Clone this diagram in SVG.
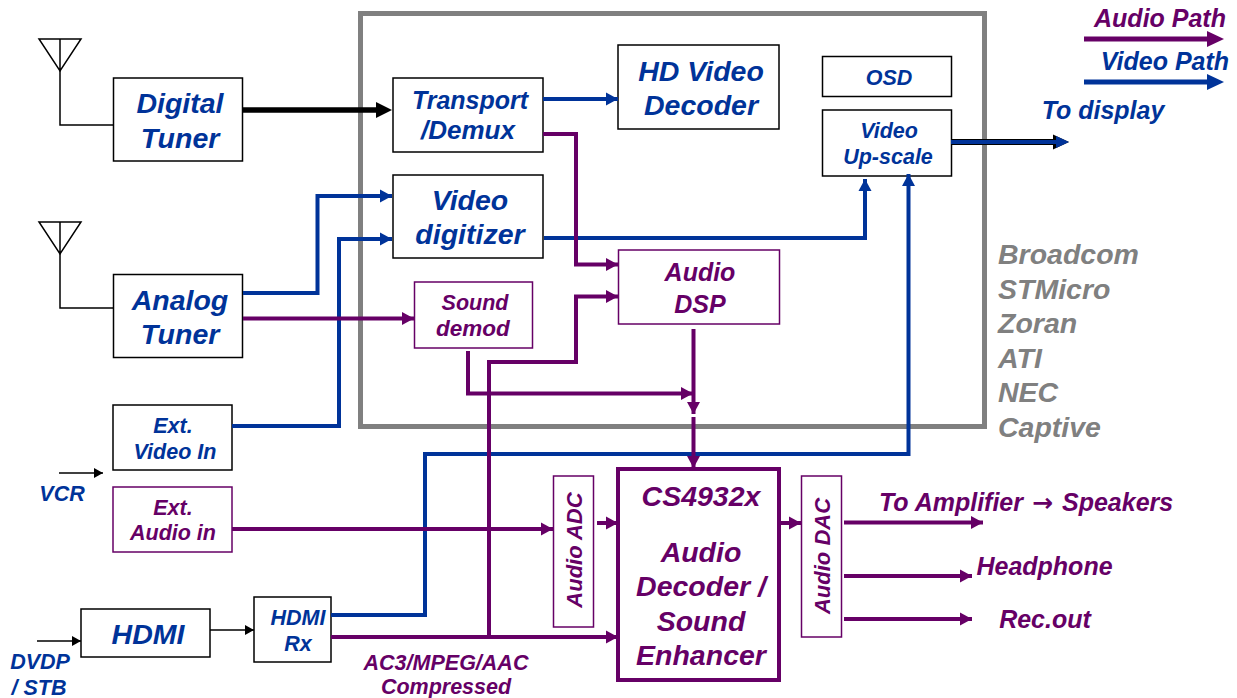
<svg xmlns="http://www.w3.org/2000/svg" width="1237" height="698" viewBox="0 0 1237 698">
<style>
text{font-family:"Liberation Sans",Arial,sans-serif;font-weight:bold;font-style:italic;text-anchor:middle}
.b{fill:#003399}.p{fill:#660066}.g{fill:#808080;text-anchor:start}
.nk{fill:#fff;stroke:#000;stroke-width:1.5}.np{fill:#fff;stroke:#660066;stroke-width:1.5}
.cb,.cp,.th{fill:none;stroke-linejoin:miter}
.cb{stroke:#003399;stroke-width:4}.cp{stroke:#660066;stroke-width:4}.th{stroke:#000;stroke-width:1.5}
.l{font-size:28.500px}.m{font-size:25px}.s{font-size:21.500px}
</style>
<defs>
<marker id="ab" markerUnits="userSpaceOnUse" markerWidth="14" markerHeight="14" refX="12" refY="7" orient="auto"><path d="M0 0.500L12 7L0 13.500z" fill="#003399"/></marker>
<marker id="ap" markerUnits="userSpaceOnUse" markerWidth="14" markerHeight="14" refX="12" refY="7" orient="auto"><path d="M0 0.500L12 7L0 13.500z" fill="#660066"/></marker>
<marker id="ak" markerUnits="userSpaceOnUse" markerWidth="10" markerHeight="14" refX="9" refY="7" orient="auto"><path d="M0 2L9 7L0 12z" fill="#000"/></marker>
</defs>
<g id="chip-frame"><rect x="360.500" y="13.500" width="624" height="413" fill="#fff" stroke="#808080" stroke-width="5"/></g>
<g id="antenna-1"><path class="th" d="M39 39H81L60 71z M60 39V71"/></g>
<g id="antenna-2"><path class="th" d="M39 222H81L60 254z M60 222V254"/></g>
<g id="digital-tuner"><rect class="nk" x="113.500" y="78" width="129" height="83"/><text class="b l" x="180" y="113">Digital</text><text class="b l" x="180" y="148">Tuner</text></g>
<g id="analog-tuner"><rect class="nk" x="113.500" y="274.500" width="129" height="83"/><text class="b l" x="180" y="310">Analog</text><text class="b l" x="180" y="344">Tuner</text></g>
<g id="ext-video"><rect class="nk" x="113" y="405" width="119" height="65"/><text class="b s" x="173" y="433">Ext.</text><text class="b s" x="175" y="459">Video In</text></g>
<g id="ext-audio"><rect class="np" x="113" y="487" width="119" height="65"/><text class="p s" x="173" y="515">Ext.</text><text class="p s" x="173" y="540">Audio in</text></g>
<g id="hdmi"><rect class="nk" x="81" y="609" width="129" height="48"/><text class="b l" x="148" y="644">HDMI</text></g>
<g id="hdmi-rx"><rect class="nk" x="254" y="597" width="77" height="65"/><text class="b s" x="298" y="625">HDMI</text><text class="b s" x="298" y="651">Rx</text></g>
<g id="transport"><rect class="nk" x="393" y="78" width="150" height="74"/><text class="b m" x="470" y="109">Transport</text><text class="b" style="font-size:26px" x="468" y="139">/Demux</text></g>
<g id="digitizer"><rect class="nk" x="393" y="175" width="150" height="83"/><text class="b l" x="470" y="210">Video</text><text class="b l" x="470" y="244">digitizer</text></g>
<g id="hd-decoder"><rect class="nk" x="618" y="45" width="161" height="84"/><text class="b l" x="701" y="81">HD Video</text><text class="b l" x="701" y="115">Decoder</text></g>
<g id="osd"><rect class="nk" x="822.500" y="56.500" width="129" height="40"/><text class="b s" x="889" y="85">OSD</text></g>
<g id="upscale"><rect class="nk" x="822.500" y="110" width="129" height="66"/><text class="b s" x="889" y="138">Video</text><text class="b s" x="888" y="164">Up-scale</text></g>
<g id="sound-demod"><rect class="np" x="414.500" y="282" width="118" height="66"/><text class="p s" x="475" y="310">Sound</text><text class="p" style="font-size:22.500px" x="473" y="336">demod</text></g>
<g id="audio-dsp"><rect class="np" x="618.500" y="250" width="161" height="74"/><text class="p m" x="700" y="281">Audio</text><text class="p m" x="700" y="313">DSP</text></g>
<g id="audio-adc"><rect class="np" x="553.500" y="476" width="40" height="151"/><text class="p" style="font-size:22px" transform="translate(582 550) rotate(-90)">Audio ADC</text></g>
<g id="cs4932x"><rect x="618" y="469" width="161" height="211" fill="#fff" stroke="#660066" stroke-width="4"/><text class="p l" x="701" y="506">CS4932x</text><text class="p l" x="701" y="562">Audio</text><text class="p l" x="701" y="596">Decoder /</text><text class="p l" x="701" y="631">Sound</text><text class="p l" x="701" y="665">Enhancer</text></g>
<g id="audio-dac"><rect class="np" x="801.500" y="476" width="40" height="161"/><text class="p" style="font-size:22px" transform="translate(830 556) rotate(-90)">Audio DAC</text></g>
<g id="connectors">
<path d="M242 110H384" fill="none" stroke="#000" stroke-width="5.500"/><path d="M376 102L392 110L376 118z" fill="#000"/>
<path class="cb" marker-end="url(#ab)" d="M543 99H618"/>
<path class="cb" marker-end="url(#ab)" d="M243 293H317.500V196H392"/>
<path class="cb" marker-end="url(#ab)" d="M232 426H339V239H392"/>
<path class="cb" marker-end="url(#ab)" d="M544 238H865V179"/>
<path class="cb" marker-end="url(#ab)" d="M331 615H425V454H908.500V174"/>
<path d="M951 142H1060" stroke="#000" stroke-width="6" fill="none"/><path d="M1053 134.500L1069 142L1053 149.500z" fill="#000"/>
<path class="cb" d="M951 142H1060"/><path d="M1056 136L1069 142L1056 148z" fill="#003399"/>
<path class="cp" marker-end="url(#ap)" d="M543 134H576V264.500H618"/>
<path class="cp" marker-end="url(#ap)" d="M243 318.500H414"/>
<path class="cp" marker-end="url(#ap)" d="M468 351V393.500H693"/>
<path class="cp" marker-end="url(#ap)" d="M693.500 329V414"/>
<path class="cp" marker-end="url(#ap)" d="M693.500 417V468"/>
<path class="cp" marker-end="url(#ap)" d="M331 637H618"/>
<path class="cp" marker-end="url(#ap)" d="M489 637V362H576V296.500H618"/>
<path class="cp" marker-end="url(#ap)" d="M232 529H553"/>
<path class="cp" marker-end="url(#ap)" d="M597 523H618"/>
<path class="cp" marker-end="url(#ap)" d="M780 523H801"/>
<path class="cp" marker-end="url(#ap)" d="M844 522.500H983"/>
<path class="cp" marker-end="url(#ap)" d="M844 576H972"/>
<path class="cp" marker-end="url(#ap)" d="M844 619H972"/>
<path class="th" marker-end="url(#ak)" d="M59 473H103"/>
<path class="th" marker-end="url(#ak)" d="M37 641H81"/>
<path class="th" marker-end="url(#ak)" d="M210 630H254"/>
<path class="th" d="M60 70V125H113"/>
<path class="th" d="M60 253V308H113"/>
</g>
<g id="legend">
<path d="M1084 39H1212" stroke="#660066" stroke-width="5" fill="none"/><path d="M1207 31L1224 39L1207 47z" fill="#660066"/>
<path d="M1084 82H1212" stroke="#003399" stroke-width="5" fill="none"/><path d="M1207 74L1224 82L1207 90z" fill="#003399"/>
<text class="p m" x="1160" y="27">Audio Path</text>
<text class="b m" x="1165" y="70">Video Path</text>
</g>
<g id="labels">
<text class="b m" x="1103" y="119">To display</text>
<text class="b s" x="62" y="501">VCR</text>
<text class="b s" x="40" y="669">DVDP</text>
<text class="b s" x="39" y="695">/ STB</text>
<text class="p s" x="446" y="670">AC3/MPEG/AAC</text>
<text class="p s" x="446" y="694">Compressed</text>
<text class="p m" style="text-anchor:start" y="511"><tspan x="879">To Amplifier</tspan> <tspan x="1032" font-family="DejaVu Sans">→</tspan> <tspan x="1062">Speakers</tspan></text>
<text class="p m" x="1044.500" y="575">Headphone</text>
<text class="p m" x="1045" y="628">Rec.out</text>
<text class="g l" x="998" y="264">Broadcom</text>
<text class="g l" x="998" y="299">STMicro</text>
<text class="g l" x="998" y="333">Zoran</text>
<text class="g l" x="998" y="368">ATI</text>
<text class="g l" x="998" y="402">NEC</text>
<text class="g l" x="998" y="437">Captive</text>
</g>
</svg>
